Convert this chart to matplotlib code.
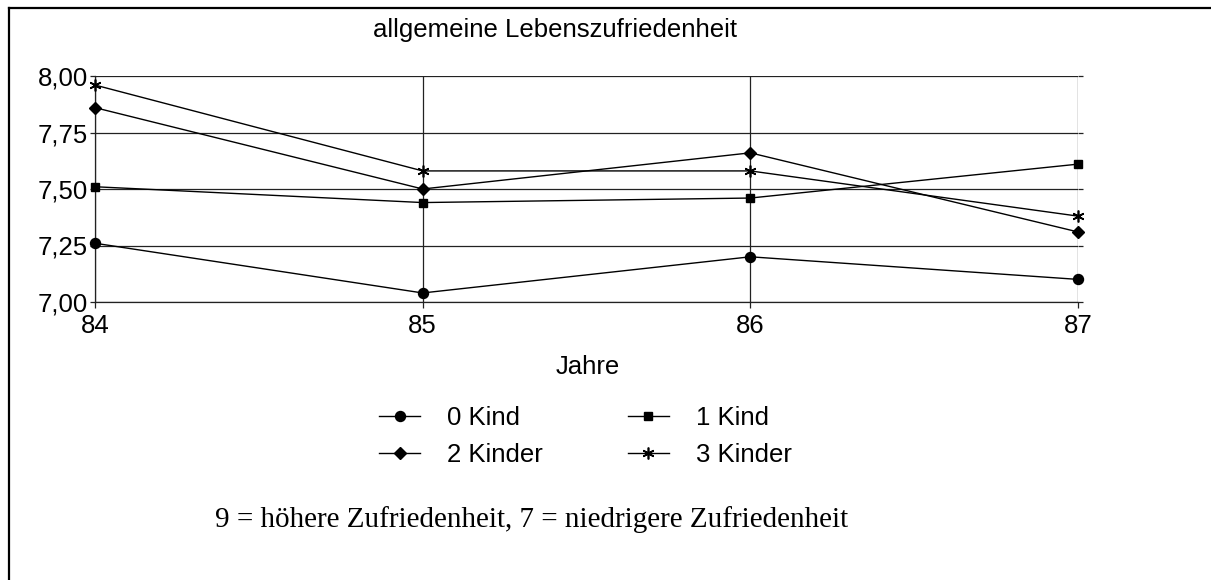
import matplotlib
matplotlib.use("Agg")
import matplotlib.pyplot as plt
from matplotlib.lines import Line2D
from matplotlib.ticker import FixedLocator, FuncFormatter

# ---- data ----
years = [84, 85, 86, 87]
kind0 = [7.26, 7.04, 7.20, 7.10]
kind1 = [7.51, 7.44, 7.46, 7.61]
kind2 = [7.86, 7.50, 7.66, 7.31]
kind3 = [7.96, 7.58, 7.58, 7.38]
series_labels = ["0 Kind", "1 Kind", "2 Kinder", "3 Kinder"]
y_ticks = [7.00, 7.25, 7.50, 7.75, 8.00]
title = "allgemeine Lebenszufriedenheit"
xlabel = "Jahre"
footnote = "9 = höhere Zufriedenheit, 7 = niedrigere Zufriedenheit"

plt.rcParams['font.family'] = ['Liberation Sans', 'DejaVu Sans']
FS = 18.5

W, H = 1211, 580
fig = plt.figure(figsize=(W / 100, H / 100), dpi=100)

def fx(px):
    return px / W

def fy(py):
    return 1 - py / H

ax = fig.add_axes([fx(95), fy(302), fx(1078) - fx(95), fy(76) - fy(302)])

ax.set_xlim(84, 87)
ax.set_ylim(7.0, 8.0)

styles = [
    dict(marker='o', ms=7.2),
    dict(marker='s', ms=5.8),
    dict(marker='D', ms=5.8),
    dict(marker=(6, 2, 0), ms=8.5, mew=1.2),
]
handles = []
for vals, lab, st in zip([kind0, kind1, kind2, kind3], series_labels, styles):
    h, = ax.plot(years, vals, color='black', lw=1.0, mfc='black', mec='black',
                 label=lab, clip_on=False, zorder=3, **st)
    handles.append(h)

ax.xaxis.set_major_locator(FixedLocator(years))
ax.yaxis.set_major_locator(FixedLocator(y_ticks))
ax.xaxis.set_major_formatter(FuncFormatter(lambda v, p: f"{int(round(v))}"))
ax.yaxis.set_major_formatter(FuncFormatter(lambda v, p: f"{v:.2f}".replace('.', ',')))

ax.grid(True, color='#222222', lw=0.9)
for s in ['top', 'right']:
    ax.spines[s].set_visible(False)
for s in ['left', 'bottom']:
    ax.spines[s].set_color('#222222')
    ax.spines[s].set_linewidth(0.9)
ax.tick_params(axis='both', labelsize=FS, color='#222222', width=0.9)
ax.tick_params(axis='x', length=4.5, pad=4)
ax.tick_params(axis='y', length=3.5, pad=1.5, right=True)

fig.text(fx(555), fy(30), title, ha='center', va='center', fontsize=FS)
fig.text(fx(588), fy(367), xlabel, ha='center', va='center', fontsize=FS)

fig.legend(handles=[handles[0], handles[2], handles[1], handles[3]],
           labels=[series_labels[0], series_labels[2], series_labels[1], series_labels[3]],
           ncol=2, loc='upper left', bbox_to_anchor=(fx(379), fy(406)),
           frameon=False, fontsize=FS, handlelength=1.6, handletextpad=1.05,
           columnspacing=3.3, labelspacing=0.5, borderpad=0, borderaxespad=0)

fig.text(fx(215), fy(520), footnote, ha='left', va='center', fontsize=21,
         family=['Liberation Serif', 'DejaVu Serif'])

# outer frame (top and left edges)
fig.add_artist(Line2D([fx(8.5), 1.0], [fy(7.5), fy(7.5)], transform=fig.transFigure,
                      color='black', lw=1.6))
fig.add_artist(Line2D([fx(8.5), fx(8.5)], [fy(7.5), 0.0], transform=fig.transFigure,
                      color='black', lw=1.6))

fig.savefig("out.png", dpi=100)
